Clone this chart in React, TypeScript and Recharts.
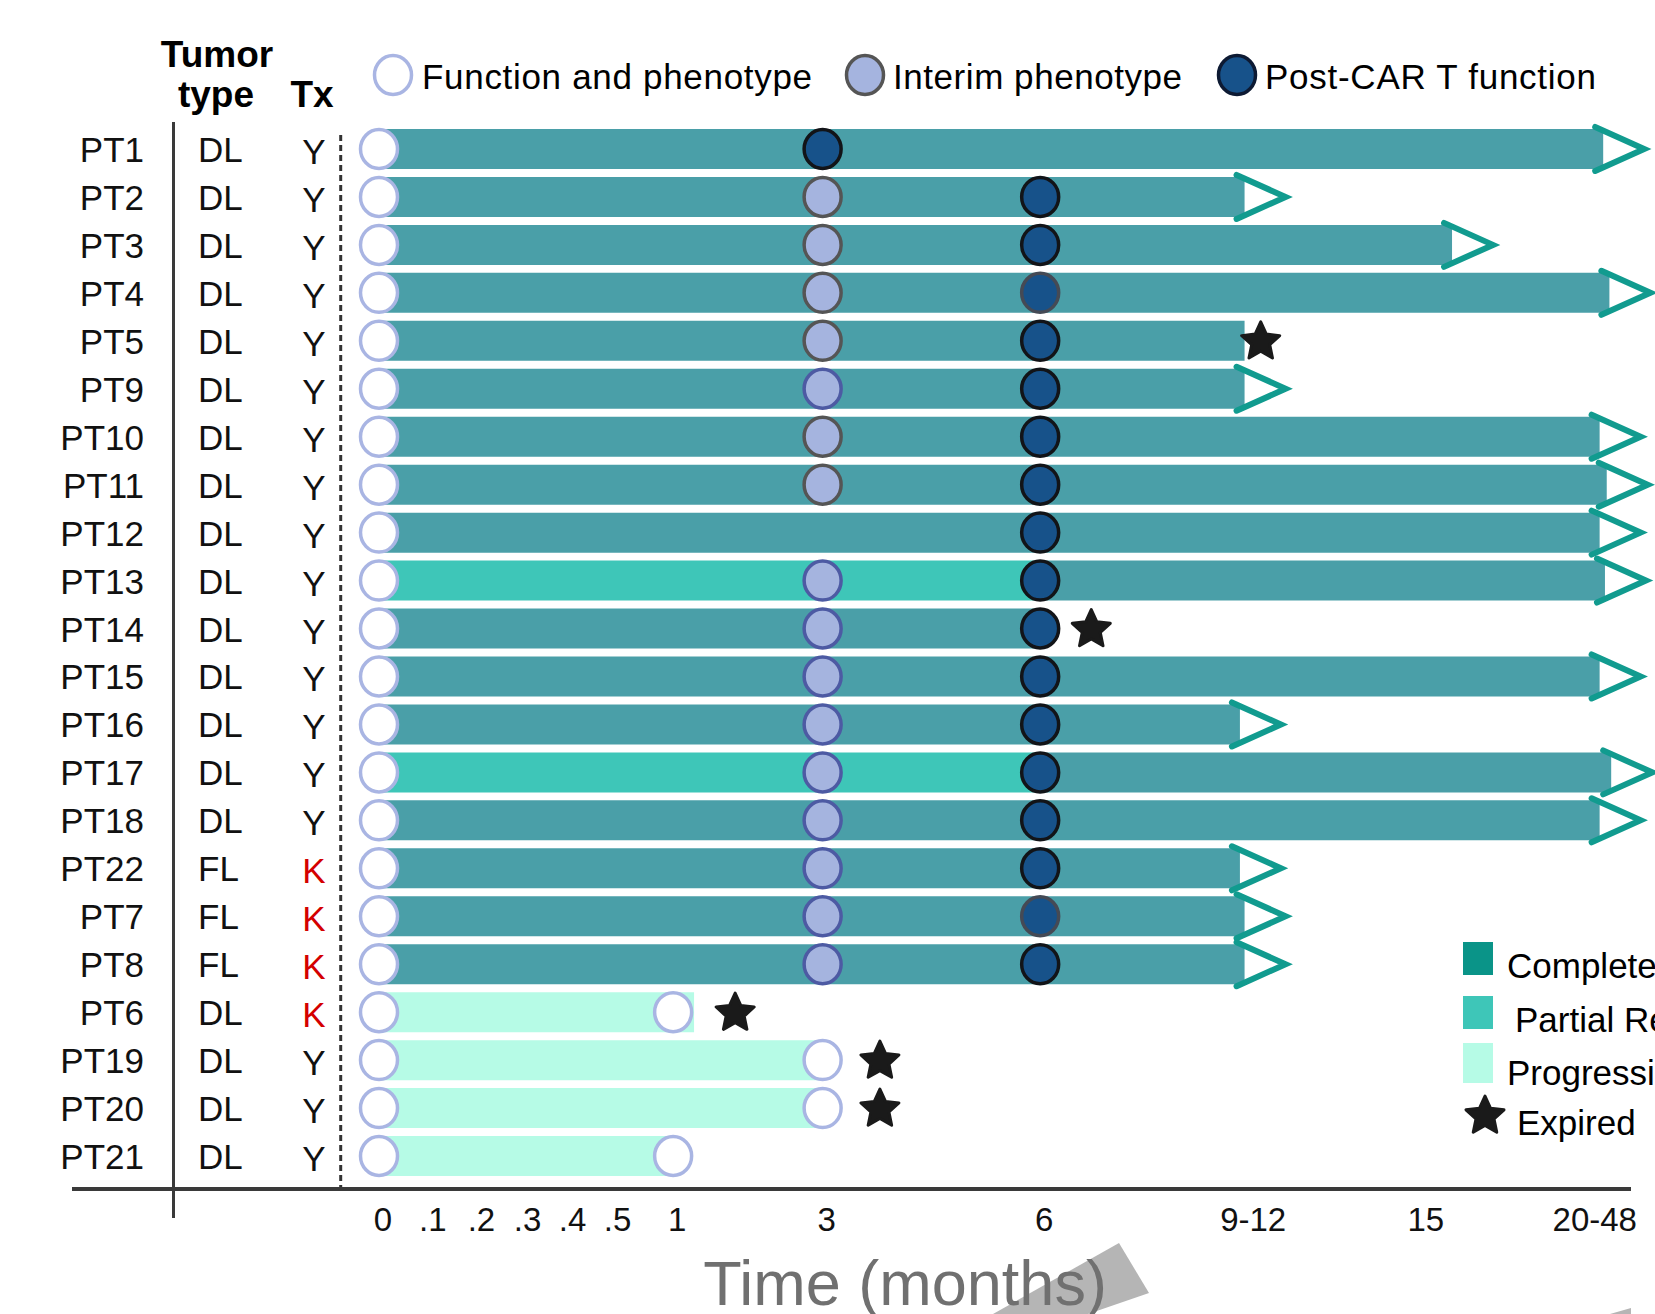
import React from 'react';
import { ComposedChart, Bar, Scatter, XAxis, YAxis } from 'recharts';

const FONT = '"Liberation Sans", Arial, Helvetica, sans-serif';

// ---------- data ----------
const PATIENTS = ['PT1', 'PT2', 'PT3', 'PT4', 'PT5', 'PT9', 'PT10', 'PT11', 'PT12', 'PT13', 'PT14', 'PT15', 'PT16', 'PT17', 'PT18', 'PT22', 'PT7', 'PT8', 'PT6', 'PT19', 'PT20', 'PT21'];
const TUMOR_TYPE = ['DL', 'DL', 'DL', 'DL', 'DL', 'DL', 'DL', 'DL', 'DL', 'DL', 'DL', 'DL', 'DL', 'DL', 'DL', 'FL', 'FL', 'FL', 'DL', 'DL', 'DL', 'DL'];
const TX = ['Y', 'Y', 'Y', 'Y', 'Y', 'Y', 'Y', 'Y', 'Y', 'Y', 'Y', 'Y', 'Y', 'Y', 'Y', 'K', 'K', 'K', 'K', 'Y', 'Y', 'Y'];
// best response along the bar: CR = complete, PD = progression
const RESPONSE = ['CR', 'CR', 'CR', 'CR', 'CR', 'CR', 'CR', 'CR', 'CR', 'CR', 'CR', 'CR', 'CR', 'CR', 'CR', 'CR', 'CR', 'CR', 'PD', 'PD', 'PD', 'PD'];
// months in partial response before complete response
const PARTIAL_UNTIL = [null, null, null, null, null, null, null, null, null, 6, null, null, null, 6, null, null, null, null, null, null, null, null];
// follow-up (months)
const FOLLOW_UP = [35.4, 10.4, 18.4, 36.1, 10.4, 10.4, 35.0, 35.8, 35.0, 35.6, 6, 35.0, 10.3, 36.3, 35.0, 10.3, 10.4, 10.4, 1.28, 3, 3, 1];
// sample time points (months)
const FUNCTION_PHENOTYPE_LATE = [null, null, null, null, null, null, null, null, null, null, null, null, null, null, null, null, null, null, 1, 3, 3, 1];
const INTERIM_PHENOTYPE = [null, 3, 3, 3, 3, 3, 3, 3, null, 3, 3, 3, 3, 3, 3, 3, 3, 3, null, null, null, null];
const POST_CART_FUNCTION = [3, 6, 6, 6, 6, 6, 6, 6, 6, 6, 6, 6, 6, 6, 6, 6, 6, 6, null, null, null, null];
const EXPIRED = [null, null, null, null, 10.8, null, null, null, null, null, 7.1, null, null, null, null, null, null, null, 1.83, 3.79, 3.79, null];
const ONGOING = [true, true, true, true, false, true, true, true, true, true, false, true, true, true, true, true, true, true, false, false, false, false];
const INTERIM_BLUE_OUTLINE = ['PT9', 'PT13', 'PT14', 'PT15', 'PT16', 'PT17', 'PT18', 'PT22', 'PT7', 'PT8'];
const POST_LIGHT_OUTLINE = ['PT4', 'PT7'];

// non-linear time axis
const TICK_LABELS = ['0', '.1', '.2', '.3', '.4', '.5', '1', '3', '6', '9-12', '15', '20-48'];
const TICK_MONTHS = [0, 0.1, 0.2, 0.3, 0.4, 0.5, 1, 3, 6, 10.5, 15, 34];
const TICK_POS = [0, 4.1, 8.1, 11.9, 15.6, 19.3, 24.2, 36.5, 54.4, 71.6, 85.8, 99.7];

function toPos(m: number): number {
  const n = TICK_MONTHS.length;
  for (let i = 0; i < n - 1; i++) {
    if (m <= TICK_MONTHS[i + 1]) {
      const f = (m - TICK_MONTHS[i]) / (TICK_MONTHS[i + 1] - TICK_MONTHS[i]);
      return TICK_POS[i] + f * (TICK_POS[i + 1] - TICK_POS[i]);
    }
  }
  const f = (m - TICK_MONTHS[n - 2]) / (TICK_MONTHS[n - 1] - TICK_MONTHS[n - 2]);
  return TICK_POS[n - 2] + f * (TICK_POS[n - 1] - TICK_POS[n - 2]);
}

const opt = (v: number | null) => (v == null ? null : toPos(v));

const rows = PATIENTS.map((name, i) => {
  const end = toPos(FOLLOW_UP[i]);
  const prEnd = PARTIAL_UNTIL[i] != null ? toPos(PARTIAL_UNTIL[i] as number) : 0;
  const isPD = RESPONSE[i] === 'PD';
  return {
    name,
    pr: prEnd,
    pd: isPD ? end : 0,
    cr: isPD ? 0 : end - prEnd,
    fp0: toPos(0),
    fpLate: opt(FUNCTION_PHENOTYPE_LATE[i]),
    interim: opt(INTERIM_PHENOTYPE[i]),
    post: opt(POST_CART_FUNCTION[i]),
    expired: opt(EXPIRED[i]),
    arrow: ONGOING[i] ? end : null,
  };
});

// ---------- styles ----------
const C_CR = '#4a9fa8';
const C_PR = '#3ec6b8';
const C_PD = '#b6fbe6';
const C_ARROW = '#119b8f';
const OPEN_STROKE = '#a9b5e3';
const INTERIM_FILL = '#a5b4df';
const POST_FILL = '#17528a';

function starPath(cx: number, cy: number, R: number, r: number): string {
  let d = '';
  for (let k = 0; k < 10; k++) {
    const rad = k % 2 === 0 ? R : r;
    const a = -Math.PI / 2 + (k * Math.PI) / 5;
    d += (k === 0 ? 'M' : 'L') + (cx + rad * Math.cos(a)).toFixed(2) + ',' + (cy + rad * Math.sin(a)).toFixed(2);
  }
  return d + 'Z';
}

const makeShape = (key: string, render: (cx: number, cy: number, p: any) => React.ReactElement) => (props: any) => {
  const p = props.payload || {};
  const v = p[key];
  if (v == null || !Number.isFinite(props.cx) || !Number.isFinite(props.cy)) return <g />;
  return render(props.cx, props.cy, p);
};

const openShape = (key: string) =>
  makeShape(key, (cx, cy) => <ellipse cx={cx} cy={cy} rx={18.5} ry={19.5} fill="#ffffff" stroke={OPEN_STROKE} strokeWidth={3.5} />);

const interimShape = makeShape('interim', (cx, cy, p) => (
  <ellipse cx={cx} cy={cy} rx={18.5} ry={19.5} fill={INTERIM_FILL} stroke={INTERIM_BLUE_OUTLINE.includes(p.name) ? '#4d5aa3' : '#555555'} strokeWidth={3.5} />
));

const postShape = makeShape('post', (cx, cy, p) => (
  <ellipse cx={cx} cy={cy} rx={18.5} ry={19.5} fill={POST_FILL} stroke={POST_LIGHT_OUTLINE.includes(p.name) ? '#454a55' : '#121418'} strokeWidth={3.5} />
));

const starShape = makeShape('expired', (cx, cy) => (
  <path d={starPath(cx, cy + 1, 20, 9.5)} fill="#1a1a1a" stroke="#1a1a1a" strokeWidth={3} strokeLinejoin="round" />
));

const arrowShape = makeShape('arrow', (cx, cy) => (
  <path d={`M${cx - 8},${cy - 22} L${cx + 41},${cy} L${cx - 8},${cy + 22}`} fill="none" stroke={C_ARROW} strokeWidth={6} strokeLinecap="round" strokeLinejoin="miter" />
));

const RowTick = (props: any) => {
  const { y, payload } = props;
  const i = PATIENTS.indexOf(payload.value);
  if (i < 0) return <g />;
  return (
    <g fontFamily={FONT} fontSize={35}>
      <text x={144} y={y + 13} textAnchor="end" fill="#111">{PATIENTS[i]}</text>
      <text x={198} y={y + 13} textAnchor="start" fill="#111">{TUMOR_TYPE[i]}</text>
      <text x={314} y={y + 15} textAnchor="middle" fill={TX[i] === 'K' ? '#d40000' : '#111'}>{TX[i]}</text>
    </g>
  );
};

const TimeTick = (props: any) => {
  const { x, payload } = props;
  const i = TICK_POS.indexOf(payload.value);
  return (
    <text x={x + 4} y={1231} textAnchor="middle" fontFamily={FONT} fontSize={33} fill="#111">
      {i >= 0 ? TICK_LABELS[i] : ''}
    </text>
  );
};

const Overlay = () => (
  <svg width={1655} height={1314} style={{ position: 'absolute', left: 0, top: 0, pointerEvents: 'none' }} fontFamily={FONT}>
    {/* header */}
    <text x={217} y={67} textAnchor="middle" fontWeight="bold" fontSize={37} fill="#000">Tumor</text>
    <text x={216} y={107} textAnchor="middle" fontWeight="bold" fontSize={37} fill="#000">type</text>
    <text x={312} y={107} textAnchor="middle" fontWeight="bold" fontSize={37} fill="#000">Tx</text>
    {/* top legend */}
    <ellipse cx={393} cy={75} rx={18.5} ry={19.5} fill="#fff" stroke={OPEN_STROKE} strokeWidth={3.5} />
    <text x={422} y={89} fontSize={35} fill="#000" textLength={390} lengthAdjust="spacing">Function and phenotype</text>
    <ellipse cx={865} cy={75} rx={18.5} ry={19.5} fill={INTERIM_FILL} stroke="#555" strokeWidth={3.5} />
    <text x={893} y={89} fontSize={35} fill="#000" textLength={289} lengthAdjust="spacing">Interim phenotype</text>
    <ellipse cx={1237} cy={75} rx={18.5} ry={19.5} fill={POST_FILL} stroke="#0d1a33" strokeWidth={3.5} />
    <text x={1265} y={89} fontSize={35} fill="#000" textLength={331} lengthAdjust="spacing">Post-CAR T function</text>
    {/* left structure lines */}
    <line x1={173.5} y1={122} x2={173.5} y2={1218} stroke="#3a3a3a" strokeWidth={3} />
    <line x1={340.7} y1={135} x2={340.7} y2={1187} stroke="#333" strokeWidth={3} strokeDasharray="6 4" />
    <line x1={72} y1={1189} x2={1631} y2={1189} stroke="#3a3a3a" strokeWidth={4} />
    {/* bottom-right legend */}
    <rect x={1463} y={942} width={30} height={33} fill="#0a9488" />
    <text x={1507} y={978} fontSize={35} fill="#000">Complete Response</text>
    <rect x={1463} y={996} width={30} height={33} fill={C_PR} />
    <text x={1515} y={1032} fontSize={35} fill="#000">Partial Response</text>
    <rect x={1463} y={1043} width={30} height={40} fill={C_PD} />
    <text x={1507} y={1085} fontSize={35} fill="#000">Progression</text>
    <path d={starPath(1485, 1116, 20, 9.5)} fill="#1a1a1a" stroke="#1a1a1a" strokeWidth={3} strokeLinejoin="round" />
    <text x={1517} y={1135} fontSize={35} fill="#000">Expired</text>
    {/* axis title */}
    <polygon points="993,1314 1119,1243 1149,1293 1088,1314" fill="#b5b5b5" />
    <polygon points="1610,1314 1631,1308 1631,1314" fill="#b5b5b5" />
    <text x={905} y={1305} textAnchor="middle" fontSize={63} fill="#707070">Time (months)</text>
  </svg>
);

export default function App() {
  return (
    <div style={{ position: 'absolute', left: 0, top: 0, width: 1655, height: 1314, background: '#fff', fontFamily: FONT }}>
      <ComposedChart
        width={1655}
        height={1314}
        data={rows}
        layout="vertical"
        margin={{ top: 125, right: 12, bottom: 74, left: 39 }}
      >
        <XAxis
          type="number"
          domain={[0, 104]}
          ticks={TICK_POS}
          interval={0}
          axisLine={false}
          tickLine={false}
          height={60}
          tick={<TimeTick />}
        />
        <YAxis
          type="category"
          dataKey="name"
          width={340}
          interval={0}
          axisLine={false}
          tickLine={false}
          tick={<RowTick />}
        />
        <Bar dataKey="pr" stackId="a" fill={C_PR} barSize={40} isAnimationActive={false} />
        <Bar dataKey="pd" stackId="a" fill={C_PD} barSize={40} isAnimationActive={false} />
        <Bar dataKey="cr" stackId="a" fill={C_CR} barSize={40} isAnimationActive={false} />
        <Scatter dataKey="arrow" shape={arrowShape} isAnimationActive={false} />
        <Scatter dataKey="expired" shape={starShape} isAnimationActive={false} />
        <Scatter dataKey="fp0" shape={openShape('fp0')} isAnimationActive={false} />
        <Scatter dataKey="fpLate" shape={openShape('fpLate')} isAnimationActive={false} />
        <Scatter dataKey="interim" shape={interimShape} isAnimationActive={false} />
        <Scatter dataKey="post" shape={postShape} isAnimationActive={false} />
      </ComposedChart>
      <Overlay />
    </div>
  );
}
